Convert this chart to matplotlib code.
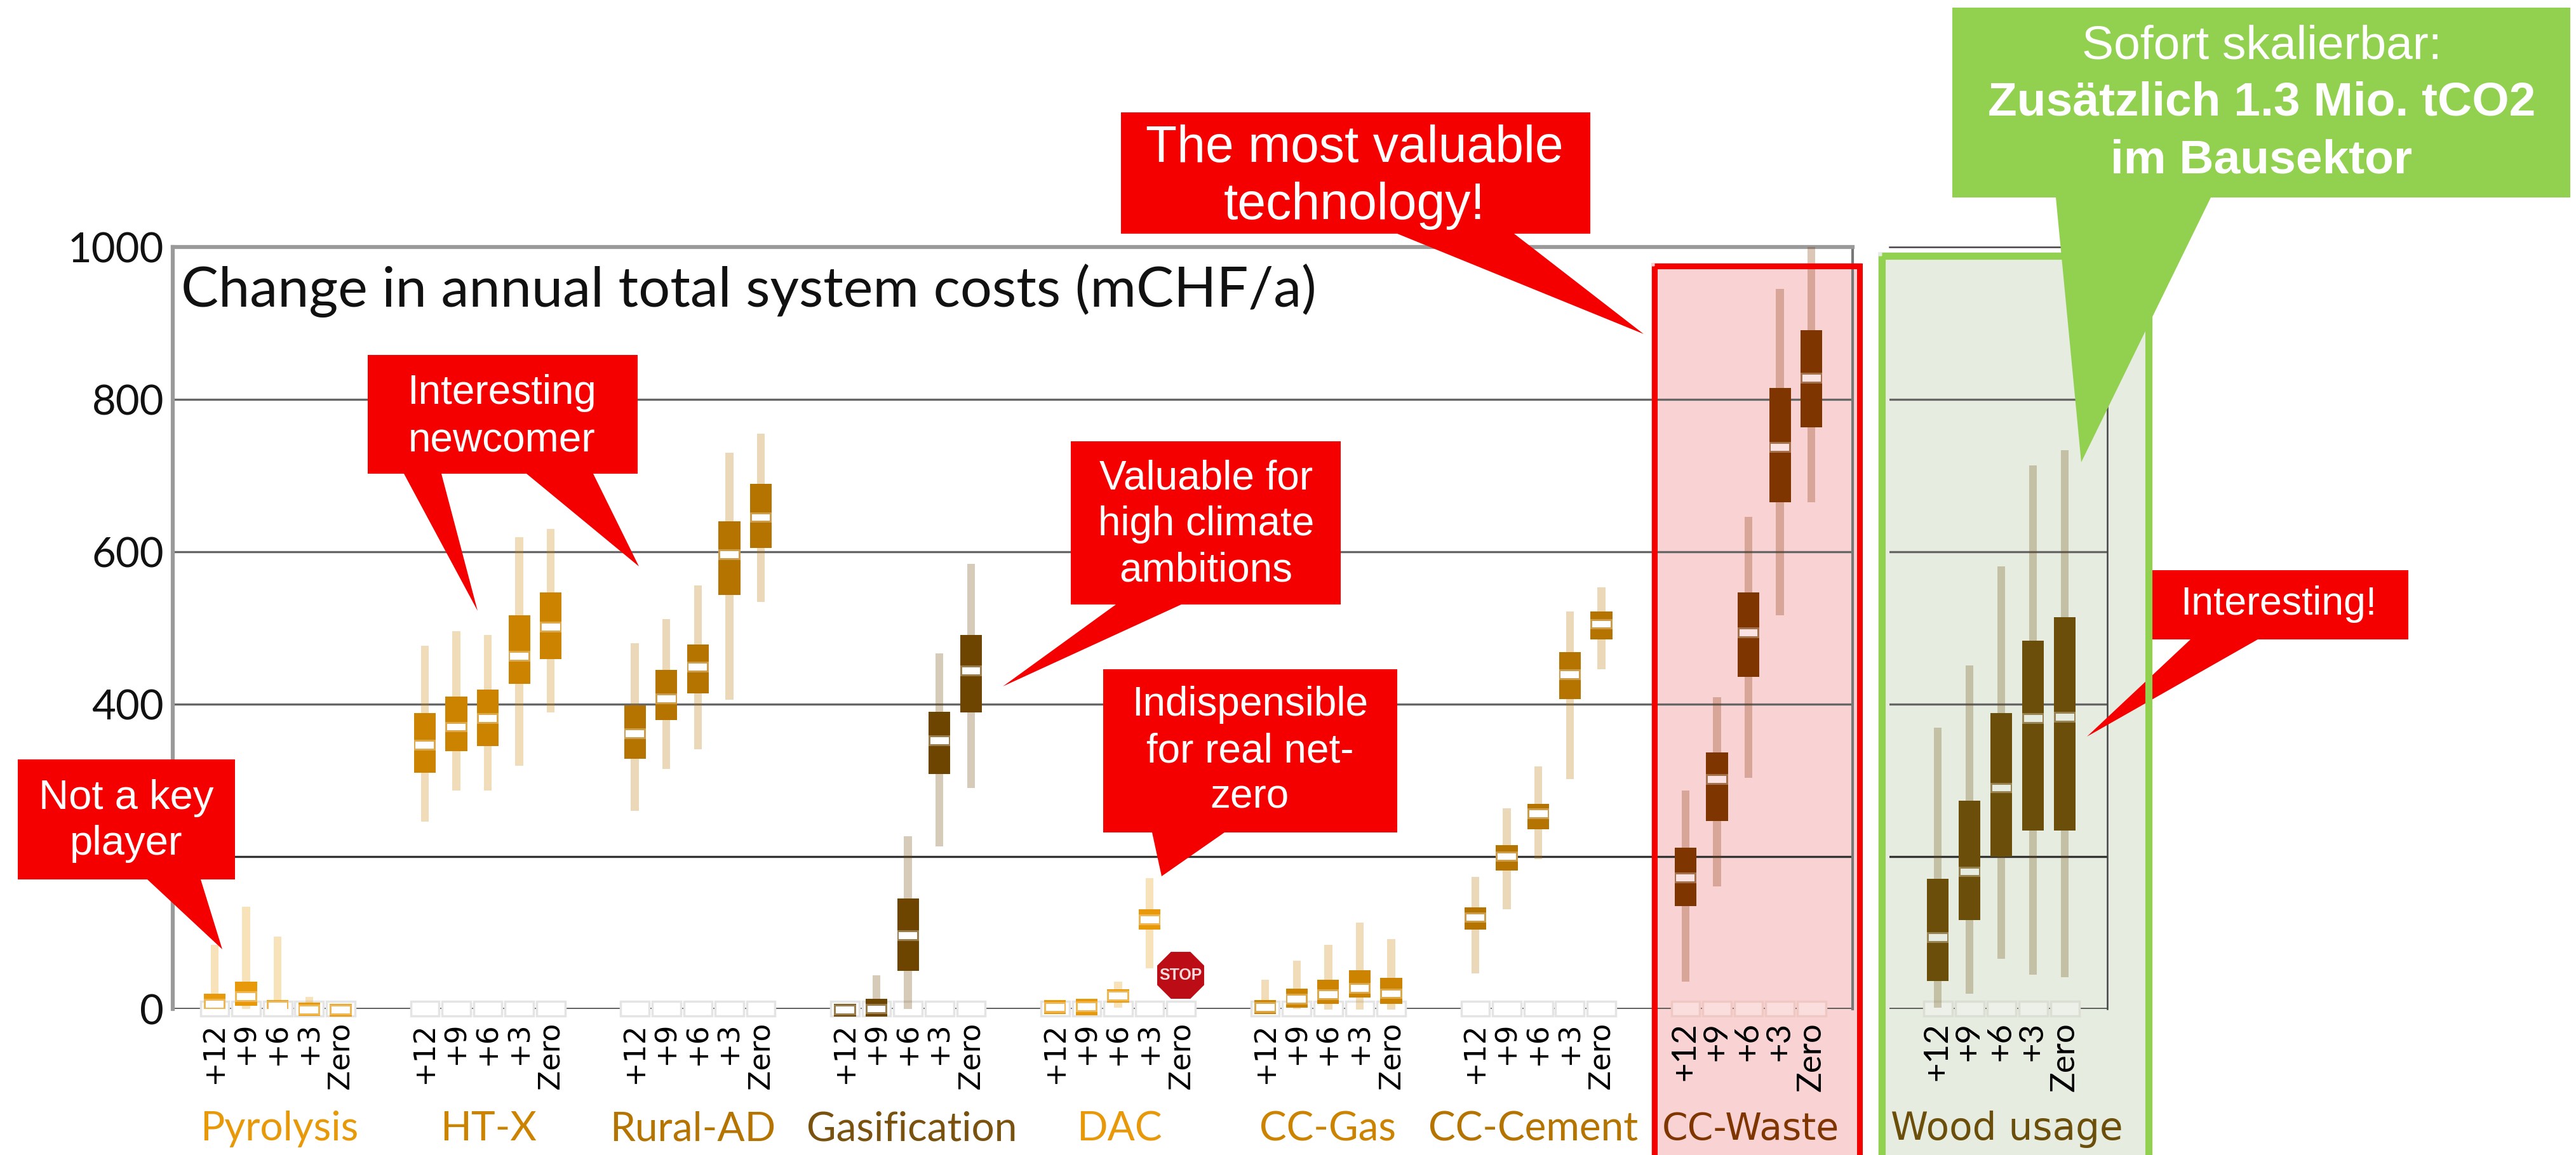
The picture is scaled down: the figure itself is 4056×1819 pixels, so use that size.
import numpy as np
import matplotlib
matplotlib.use('Agg')
import matplotlib.pyplot as plt
from matplotlib.patches import Polygon, Rectangle, RegularPolygon

nan = np.nan

groups = ['Pyrolysis', 'HT-X', 'Rural-AD', 'Gasification', 'DAC', 'CC-Gas', 'CC-Cement', 'CC-Waste']
group_colors = ['#E8990A', '#CC8400', '#B57300', '#6E4500', '#E8990A', '#CC8400', '#B57300', '#7F3500']
label_colors = ['#E8990A', '#CC8400', '#B57300', '#7A5210', '#E8990A', '#CC8400', '#B57300', '#7F3500']
scenarios = ['+12', '+9', '+6', '+3', 'Zero']
y_ticks = [0, 200, 400, 600, 800, 1000]
# the 200 label is hidden by the "Not a key player" box in the picture
y_tick_labels = ['0', '', '400', '600', '800', '1000']

# one row per technology, one column per scenario (mCHF/a)
whisker_low = [
    [0, 0, 0, -5, nan],
    [246, 287, 287, 319, 389],
    [260, 315, 341, 406, 534],
    [nan, 0, 0, 213, 290],
    [nan, nan, 2, 53, nan],
    [0, 0, -1, -1, -1],
    [47, 131, 197, 302, 446],
    [36, 161, 303, 517, 665],
]
whisker_high = [
    [84, 134, 95, 16, nan],
    [477, 496, 491, 619, 630],
    [480, 512, 556, 730, 755],
    [nan, 44, 227, 467, 584],
    [nan, nan, 36, 172, nan],
    [38, 63, 84, 113, 92],
    [173, 263, 318, 522, 553],
    [287, 409, 646, 945, 1000],
]
box_low = [
    [0, 4, 0, -9, -10],
    [310, 338, 345, 427, 459],
    [328, 379, 414, 543, 605],
    [-10, -10, 50, 308, 389],
    [-7, -8, 8, 104, nan],
    [-7, 2, 7, 15, 7],
    [104, 182, 236, 407, 485],
    [135, 247, 436, 665, 763],
]
box_high = [
    [20, 36, 12, 8, 7],
    [388, 410, 419, 517, 547],
    [398, 445, 478, 640, 689],
    [7, 13, 145, 390, 491],
    [12, 13, 26, 131, nan],
    [12, 27, 38, 51, 41],
    [133, 215, 269, 468, 522],
    [212, 337, 547, 815, 891],
]
medians = [
    [6, 16, 4, -1, -1],
    [346, 370, 381, 463, 501],
    [361, 407, 449, 596, 645],
    [-1, 0, 96, 352, 444],
    [2, 3, 17, 117, nan],
    [2, 13, 19, 27, 20],
    [120, 200, 256, 439, 505],
    [172, 301, 494, 737, 828],
]

wood_color = '#6B4E0A'
wood_whisker_low = [2, 20, 66, 45, 42]
wood_whisker_high = [369, 451, 581, 713, 733]
wood_box_low = [37, 117, 200, 234, 234]
wood_box_high = [171, 273, 388, 483, 514]
wood_medians = [94, 180, 290, 381, 383]

W, H = 4056, 1819
RED = '#F50000'
GREEN = '#92D050'
PINK = '#F9D2D3'
SAGE = '#E7ECE1'
plt.rcParams['font.family'] = ['Lato', 'DejaVu Sans']

fig = plt.figure(figsize=(W / 100, H / 100), dpi=100, facecolor='white')


def px_axes(x0, x1, y0, y1, zorder):
    a = fig.add_axes([x0 / W, 1 - y1 / H, (x1 - x0) / W, (y1 - y0) / H], zorder=zorder)
    a.patch.set_visible(False)
    return a


# background panels behind the chart
under = px_axes(0, W, 0, H, -1)
under.set_xlim(0, W)
under.set_ylim(H, 0)
under.axis('off')
under.add_patch(Rectangle((2600, 414), 332, 1405, fc=PINK, ec='none'))
under.add_patch(Rectangle((2957, 397), 431, 1422, fc=SAGE, ec='none'))


def draw_group(ax, xs, color, wl, wh, bl, bh, med, median_color, slot_color, slot_edge):
    ax.bar(xs, [19] * 5, bottom=-9, width=0.9, color=slot_color, edgecolor=slot_edge,
           linewidth=2.5, zorder=3, clip_on=False)
    for x, a, b, c, d, m in zip(xs, wl, wh, bl, bh, med):
        if not np.isnan(a):
            ax.bar(x, b - a, bottom=a, width=0.25, color=color, alpha=0.28, zorder=4,
                   clip_on=False)
        if not np.isnan(c):
            ax.bar(x, d - c, bottom=c, width=0.69, color=color, zorder=5, clip_on=False)
            ax.bar(x, 14, bottom=m - 7, width=0.69, color='white', alpha=0.3, zorder=6,
                   clip_on=False)
            ax.bar(x, 9, bottom=m - 4.5, width=0.58, color=median_color, zorder=7,
                   clip_on=False)


def style_axes(ax):
    ax.set_ylim(0, 1000)
    ax.set_yticks(y_ticks)
    ax.tick_params(axis='both', length=0)
    ax.tick_params(axis='x', pad=15)
    for g in y_ticks[1:-1]:
        ax.axhline(g, color='#333333' if g == 200 else '#666666', lw=2.4, zorder=1)
    ax.axhline(0, color='#555555', lw=2.6, zorder=1)


# main panel
ax = px_axes(272, 2917, 389, 1589, 1)
style_axes(ax)
x_step = 49.6
start = 338
ax.set_xlim((272 - start) / x_step, (2917 - start) / x_step)
ticks, tick_names = [], []
for i in range(len(groups)):
    xs = [i * 6.67 + j for j in range(5)]
    ticks += xs
    tick_names += scenarios
    if groups[i] == 'CC-Waste':
        draw_group(ax, xs, group_colors[i], whisker_low[i], whisker_high[i], box_low[i],
                   box_high[i], medians[i], '#FBE3E3', '#FADDDD', '#EFC8C4')
    else:
        draw_group(ax, xs, group_colors[i], whisker_low[i], whisker_high[i], box_low[i],
                   box_high[i], medians[i], 'white', 'white', '#E4E4E4')
ax.set_xticks(ticks)
ax.set_xticklabels(tick_names, rotation=90, fontsize=33, family=['DejaVu Sans'], va='top')
for lab in ax.get_xticklabels()[-5:]:
    lab.set_family(['Lato'])
    lab.set_fontsize(38)
ax.set_yticklabels(y_tick_labels, fontsize=47, color='#111111')
ax.tick_params(axis='y', pad=10)
for s in ['left', 'top']:
    ax.spines[s].set_color('#9A9A9A')
    ax.spines[s].set_linewidth(4.5)
ax.spines['right'].set_color('#777777')
ax.spines['right'].set_linewidth(3)
ax.spines['bottom'].set_visible(False)

# wood usage panel
ax2 = px_axes(2975, 3318, 389, 1589, 1)
style_axes(ax2)
ax2.set_xlim((2975 - 3051) / 50, (3318 - 3051) / 50)
wood_x = list(range(5))
draw_group(ax2, wood_x, wood_color, wood_whisker_low, wood_whisker_high, wood_box_low,
           wood_box_high, wood_medians, SAGE, '#EDF0E8', '#DADED3')
ax2.set_xticks(wood_x)
ax2.set_xticklabels(scenarios, rotation=90, fontsize=38, va='top')
ax2.set_yticklabels([])
ax2.spines['left'].set_visible(False)
ax2.spines['bottom'].set_visible(False)
ax2.spines['top'].set_color('#444444')
ax2.spines['top'].set_linewidth(1.8)
ax2.spines['right'].set_color('#444444')
ax2.spines['right'].set_linewidth(1.8)

# everything placed on the slide goes on a full-size overlay in pixels
over = px_axes(0, W, 0, H, 5)
over.set_xlim(0, W)
over.set_ylim(H, 0)
over.axis('off')

over.text(285, 458, 'Change in annual total system costs (mCHF/a)', fontsize=63.5, color='#111111',
          ha='left', va='center')

label_x = [440, 769, 1091, 1436, 1762, 2090, 2414]
for x, name, c in zip(label_x, groups, label_colors):
    over.text(x, 1778, name, fontsize=46, color=c, ha='center', va='center')
over.text(2756, 1778, 'CC-Waste', fontsize=42, color='#7F3500', ha='center', va='center',
          family=['DejaVu Sans'])
over.text(3160, 1778, 'Wood usage', fontsize=43, color=wood_color, ha='center', va='center',
          family=['DejaVu Sans'])

# STOP sign next to the empty DAC zero slot
over.add_patch(RegularPolygon((1859, 1536), 8, radius=40, orientation=np.pi / 8, fc='#BC0D17',
                              ec='none'))
over.text(1859, 1536, 'STOP', fontsize=18, color='#F6DCDC', ha='center', va='center',
          family=['Liberation Sans'], fontweight='bold')


def callout(box, tips, lines, cx, cy, size, spacing=1.27, color=RED, **kw):
    x0, y0, x1, y1 = box
    over.add_patch(Rectangle((x0, y0), x1 - x0, y1 - y0, fc=color, ec='none', zorder=2))
    for t in tips:
        over.add_patch(Polygon(t, closed=True, fc=color, ec='none', zorder=2))
    over.text(cx, cy, lines, fontsize=size, color='white', ha='center', va='center',
              family=['Liberation Sans'], linespacing=spacing, zorder=3, **kw)


callout((28, 1196, 370, 1385), [[(232, 1385), (350, 1495), (316, 1385)]],
        'Not a key\nplayer', 199, 1293, 47)
callout((579, 559, 1004, 746), [[(636, 746), (752, 962), (695, 746)],
                                [(829, 746), (1006, 892), (934, 746)]],
        'Interesting\nnewcomer', 790, 657, 46, spacing=1.32)
callout((1686, 695, 2111, 952), [[(1757, 952), (1579, 1081), (1860, 952)]],
        'Valuable for\nhigh climate\nambitions', 1899, 826, 46)
callout((1737, 1054, 2200, 1311), [[(1814, 1311), (1829, 1380), (1928, 1311)]],
        'Indispensible\nfor real net-\nzero', 1968, 1183, 46)
callout((1765, 177, 2504, 368), [[(2200, 368), (2588, 526), (2384, 368)]],
        'The most valuable\ntechnology!', 2133, 279, 58, spacing=1.25)
callout((3385, 898, 3792, 1007), [[(3449, 1007), (3286, 1160), (3555, 1007)]],
        'Interesting!', 3588, 951, 45)

# panel borders
over.add_patch(Rectangle((2604.5, 418.5), 323, 1410, fc='none', ec=RED, lw=6.5, zorder=4))
over.add_patch(Rectangle((2962.5, 402.5), 420, 1425, fc='none', ec=GREEN, lw=8, zorder=4))

# green callout on top of the wood panel
over.add_patch(Rectangle((3074, 12), 973, 299, fc=GREEN, ec='none', zorder=5))
over.add_patch(Polygon([(3237, 311), (3277, 728), (3481, 311)], closed=True, fc=GREEN, ec='none',
                       zorder=5))
over.text(3561, 73, 'Sofort skalierbar:', fontsize=54, color='white', ha='center', va='center',
          family=['Liberation Sans'], zorder=6)
over.text(3561, 162, 'Zusätzlich 1.3 Mio. tCO2', fontsize=54, color='white', ha='center',
          va='center', family=['Liberation Sans'], fontweight='bold', zorder=6)
over.text(3561, 253, 'im Bausektor', fontsize=54, color='white', ha='center', va='center',
          family=['Liberation Sans'], fontweight='bold', zorder=6)

fig.savefig('out.png', dpi=100)
